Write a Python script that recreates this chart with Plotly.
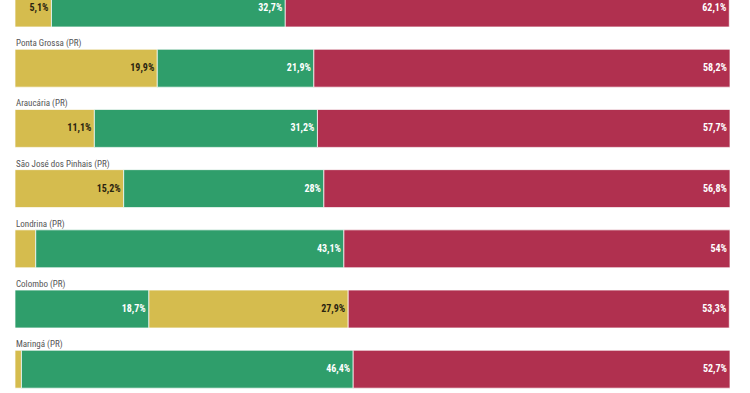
import plotly.graph_objects as go

cities = ["Cascavel (PR)", "Ponta Grossa (PR)", "Araucária (PR)", "São José dos Pinhais (PR)",
          "Londrina (PR)", "Colombo (PR)", "Maringá (PR)"]
yellow = [5.1, 19.9, 11.1, 15.2, 2.9, 27.9, 0.9]
green = [32.7, 21.9, 31.2, 28.0, 43.1, 18.7, 46.4]
red = [62.1, 58.2, 57.7, 56.8, 54.0, 53.3, 52.7]

series = [("yellow", yellow, "#D5BC4E", "#2a2410"),
          ("green", green, "#2F9E6B", "#ffffff"),
          ("red", red, "#B0304F", "#ffffff")]

# segments in each row are ordered from smallest to largest
bases = {name: [0.0] * len(cities) for name, *_ in series}
for i in range(len(cities)):
    order = sorted(series, key=lambda s: s[1][i])
    acc = 0.0
    for name, vals, *_ in order:
        bases[name][i] = acc
        acc += vals[i]

def fmt(v):
    if v < 4:
        return ""
    s = ("%.1f" % v).rstrip("0").rstrip(".")
    return s.replace(".", ",") + "%"

NARROW = "Roboto Condensed, Liberation Sans Narrow, DejaVu Sans Condensed, Roboto"

ypos = list(range(len(cities)))
fig = go.Figure()
for name, vals, color, tcolor in series:
    fig.add_trace(go.Bar(
        orientation="h", y=ypos, x=vals, base=bases[name],
        width=0.63,
        marker=dict(color=color, line=dict(color="rgba(255,255,255,0.7)", width=1)),
        text=[fmt(v) for v in vals], textposition="inside", insidetextanchor="end",
        textangle=0,
        textfont=dict(family=NARROW, size=10, color=tcolor, weight="bold"),
        hoverinfo="skip", showlegend=False,
    ))

for i, c in enumerate(cities):
    fig.add_annotation(x=0, y=i - 0.315, xref="x", yref="y", text=c, showarrow=False,
                       xanchor="left", yanchor="bottom", yshift=-2, xshift=-1,
                       font=dict(family=NARROW, size=9, color="#555555"))

fig.update_layout(
    width=750, height=393, margin=dict(l=15, r=20, t=0, b=0),
    paper_bgcolor="white", plot_bgcolor="white", barmode="overlay",
    xaxis=dict(range=[0, 100], visible=False),
    yaxis=dict(range=[6.395, -0.133], visible=False),
    uniformtext=dict(minsize=6, mode="show"),
)
fig.write_html("out.html", config={"displayModeBar": False},
               post_script="document.body.style.margin='0';document.body.style.overflow='hidden';")
